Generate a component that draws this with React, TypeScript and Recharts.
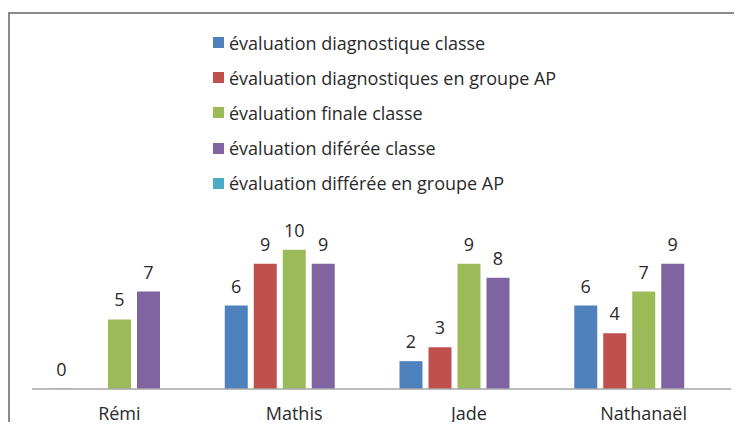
import { BarChart, Bar, XAxis, YAxis } from 'recharts'

const students = ['Rémi', 'Mathis', 'Jade', 'Nathanaël']

const diagClasse:   (number | null)[] = [0, 6, 2, 6]
const diagGroupeAP: (number | null)[] = [null, 9, 3, 4]
const finaleClasse: (number | null)[] = [5, 10, 9, 7]
const diffClasse:   (number | null)[] = [7, 9, 8, 9]
const diffGroupeAP: (number | null)[] = [null, null, null, null]

const seriesNames = [
  'évaluation diagnostique classe',
  'évaluation diagnostiques en groupe AP',
  'évaluation finale classe',
  'évaluation diférée classe',
  'évaluation différée en groupe AP',
]
const seriesColors = ['#4F81BD', '#C0504D', '#9BBB59', '#8064A2', '#4BACC6']
const seriesValues = [diagClasse, diagGroupeAP, finaleClasse, diffClasse, diffGroupeAP]

const FONT = '"Open Sans", Calibri, sans-serif'
const TEXT = '#2a2a2a'

const data = students.map((name, i) => {
  const row: Record<string, string | number | null> = { name }
  seriesValues.forEach((vals, s) => { row[`s${s}`] = vals[i] })
  return row
})

// eslint-disable-next-line @typescript-eslint/no-explicit-any
function ValueLabel(props: any) {
  const { x, y, width, height, value } = props
  if (value === null || value === undefined) return null
  const top = Math.min(y, y + (height || 0))
  return (
    <text x={x + width / 2} y={top - 13} textAnchor="middle" fontSize={18} fontFamily={FONT} fill={TEXT}>
      {value}
    </text>
  )
}

// zero values still need a (hairline) rect so their label gets drawn
const zeroPoint = (v: number | null) => (v === 0 ? 0.2 : 0)

export default function App() {
  return (
    <div style={{ margin: -8, width: 742, height: 430, position: 'relative', overflow: 'hidden', background: '#fff' }}>
      <div style={{
        position: 'absolute', left: 8, top: 12, width: 800, height: 500,
        border: '2px solid #8a8a8a', boxSizing: 'border-box',
      }} />
      <div style={{ position: 'absolute', left: 213, top: 25, fontFamily: FONT, fontSize: 18, color: TEXT }}>
        {seriesNames.map((n, i) => (
          <div key={n} style={{ display: 'flex', alignItems: 'center', height: 35.2 }}>
            <span style={{ width: 11, height: 11, background: seriesColors[i], marginRight: 5, display: 'inline-block' }} />
            <span>{n}</span>
          </div>
        ))}
      </div>
      <BarChart
        width={742}
        height={430}
        data={data}
        margin={{ top: 222, right: 11, bottom: 0, left: 32 }}
        barSize={23}
        barGap={6}
        style={{ position: 'absolute', left: 0, top: 0 }}
      >
        <XAxis
          dataKey="name"
          height={41}
          tickLine={false}
          axisLine={{ stroke: '#a6a6a6', strokeWidth: 1.5 }}
          tick={{ fontSize: 18, fontFamily: FONT, fill: TEXT }}
          tickMargin={12}
        />
        <YAxis hide domain={[0, 12]} />
        {seriesNames.map((n, i) => (
          <Bar key={n} dataKey={`s${i}`} name={n} fill={seriesColors[i]} isAnimationActive={false}
            minPointSize={zeroPoint} label={ValueLabel} />
        ))}
      </BarChart>
    </div>
  )
}
